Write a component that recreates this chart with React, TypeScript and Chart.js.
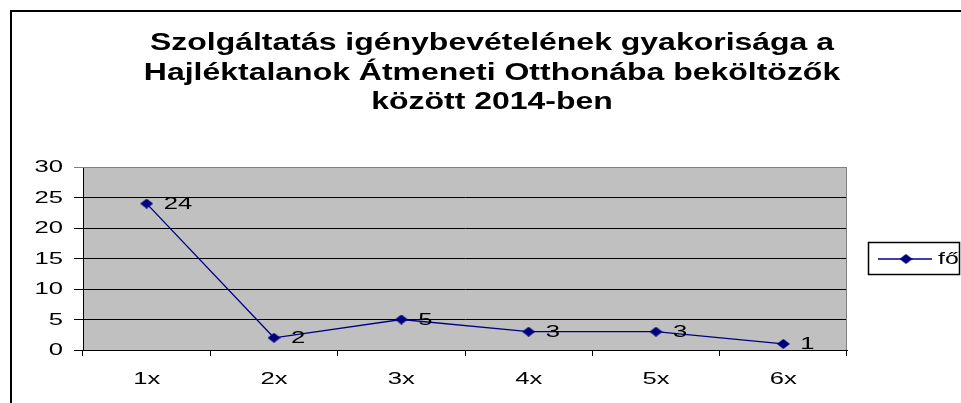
import React, { useEffect, useRef } from "react";
import { Chart, registerables } from "chart.js";

Chart.register(...registerables);

const titleLines = [
  "Szolgáltatás igénybevételének gyakorisága a",
  "Hajléktalanok Átmeneti Otthonába beköltözők",
  "között 2014-ben",
];
const categories = ["1x", "2x", "3x", "4x", "5x", "6x"];
const seriesLabel = "fő";
const seriesValues = [24, 2, 5, 3, 3, 1];
const yTicks = [0, 5, 10, 15, 20, 25, 30];

const FONT = "'Liberation Sans', Arial, sans-serif";
const NAVY = "#000080";

function stretchText(
  ctx: CanvasRenderingContext2D,
  text: string,
  x: number,
  y: number,
  sx: number,
  align: CanvasTextAlign,
  baseline: CanvasTextBaseline
) {
  ctx.save();
  ctx.translate(x, y);
  ctx.scale(sx, 1);
  ctx.textAlign = align;
  ctx.textBaseline = baseline;
  ctx.fillText(text, 0, 0);
  ctx.restore();
}

function makeDiamond(): HTMLCanvasElement {
  const c = document.createElement("canvas");
  c.width = 13;
  c.height = 10;
  const g = c.getContext("2d")!;
  g.fillStyle = NAVY;
  g.beginPath();
  g.moveTo(0, 5);
  g.lineTo(6.5, 0);
  g.lineTo(13, 5);
  g.lineTo(6.5, 10);
  g.closePath();
  g.fill();
  return c;
}

export default function App() {
  const ref = useRef<HTMLCanvasElement | null>(null);

  useEffect(() => {
    if (!ref.current) return;
    const diamond = makeDiamond();

    const decor = {
      id: "decor",
      beforeDraw(chart: any) {
        const { ctx, chartArea } = chart;
        ctx.save();
        ctx.fillStyle = "#ffffff";
        ctx.fillRect(0, 0, chart.width, chart.height);
        ctx.fillStyle = "#C0C0C0";
        ctx.fillRect(
          chartArea.left,
          chartArea.top,
          chartArea.right - chartArea.left,
          chartArea.bottom - chartArea.top
        );
        ctx.strokeStyle = "#000000";
        ctx.lineWidth = 2;
        ctx.strokeRect(11, 11, chart.width + 20, chart.height + 20);
        ctx.restore();
      },
      beforeDatasetsDraw(chart: any) {
        const { ctx, chartArea } = chart;
        ctx.save();
        ctx.strokeStyle = "#808080";
        ctx.lineWidth = 1;
        ctx.beginPath();
        ctx.moveTo(chartArea.left, chartArea.top + 0.5);
        ctx.lineTo(chartArea.right - 0.5, chartArea.top + 0.5);
        ctx.lineTo(chartArea.right - 0.5, chartArea.bottom);
        ctx.stroke();
        ctx.restore();
      },
      afterDraw(chart: any) {
        const { ctx } = chart;
        const xs = chart.scales.x;
        const ys = chart.scales.y;
        ctx.save();
        ctx.fillStyle = "#000000";

        ctx.font = `bold 23px ${FONT}`;
        const baselines = [50, 80, 109];
        titleLines.forEach((t, i) =>
          stretchText(ctx, t, 492, baselines[i], 1.39, "center", "alphabetic")
        );

        ctx.font = `16px ${FONT}`;
        yTicks.forEach((v) => {
          stretchText(ctx, String(v), 63, ys.getPixelForValue(v) + 1, 1.6, "right", "middle");
        });

        categories.forEach((c, i) => {
          stretchText(ctx, c, xs.getPixelForValue(i), 384, 1.6, "center", "alphabetic");
        });

        const meta = chart.getDatasetMeta(0);
        meta.data.forEach((pt: any, i: number) => {
          stretchText(ctx, String(seriesValues[i]), pt.x + 17, pt.y + 1, 1.6, "left", "middle");
        });

        ctx.strokeStyle = "#000000";
        ctx.lineWidth = 1.5;
        ctx.strokeRect(868.5, 242.5, 91, 32);
        ctx.strokeStyle = NAVY;
        ctx.lineWidth = 1.3;
        ctx.beginPath();
        ctx.moveTo(878, 259);
        ctx.lineTo(932, 259);
        ctx.stroke();
        ctx.drawImage(diamond, 906 - 6.5, 259 - 5);
        ctx.fillStyle = "#000000";
        stretchText(ctx, seriesLabel, 938, 260, 1.55, "left", "middle");
        ctx.restore();
      },
    };

    const chart = new Chart(ref.current, {
      type: "line",
      data: {
        labels: categories,
        datasets: [
          {
            label: seriesLabel,
            data: seriesValues,
            borderColor: NAVY,
            backgroundColor: NAVY,
            borderWidth: 1.3,
            pointStyle: diamond as any,
            pointRadius: 5,
            tension: 0,
          },
        ],
      },
      options: {
        responsive: false,
        animation: false,
        layout: { padding: { top: 167, right: 114, left: 0, bottom: 0 } },
        plugins: {
          legend: { display: false },
          title: { display: false },
          tooltip: { enabled: false },
        },
        scales: {
          x: {
            type: "category",
            offset: true,
            grid: {
              offset: true,
              drawOnChartArea: false,
              drawTicks: true,
              tickLength: 6,
              color: "#000000",
            },
            border: { display: true, color: "#000000" },
            ticks: { display: false },
            afterFit(scale: any) {
              scale.height = 53;
            },
          },
          y: {
            min: 0,
            max: 30,
            ticks: { display: false, stepSize: 5 },
            grid: {
              color: (c: any) => (c.tick && c.tick.value === 30 ? "#808080" : "#000000"),
              tickLength: 9,
              drawTicks: true,
            },
            border: { display: true, color: "#000000" },
            afterFit(scale: any) {
              scale.width = 83;
            },
          },
        },
      },
      plugins: [decor],
    });

    return () => chart.destroy();
  }, []);

  return (
    <div style={{ position: "fixed", left: 0, top: 0, width: 961, height: 403 }}>
      <canvas ref={ref} width={961} height={403} style={{ display: "block" }} />
    </div>
  );
}
